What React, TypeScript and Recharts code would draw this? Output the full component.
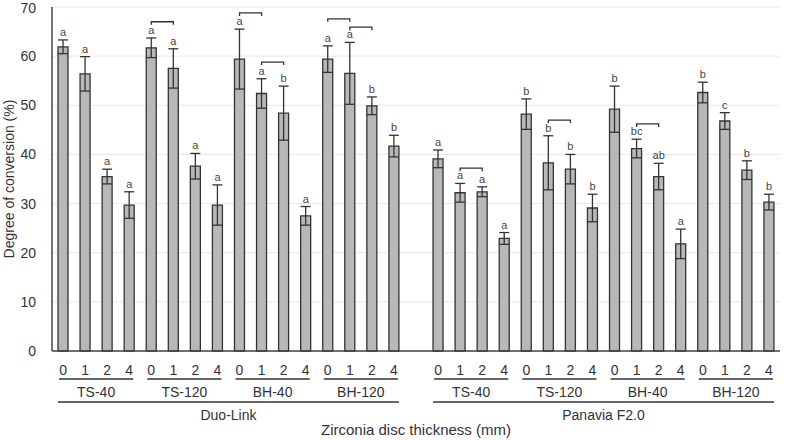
import React from "react";
import {
  Bar,
  BarChart,
  CartesianGrid,
  ErrorBar,
  LabelList,
  Line,
  ReferenceLine,
  XAxis,
  YAxis,
  ComposedChart,
} from "recharts";

const groups = ["Duo-Link", "Panavia F2.0"];
const subgroups = ["TS-40", "TS-120", "BH-40", "BH-120"];
const thickness = ["0", "1", "2", "4"];

const duoMean = [61.9, 56.4, 35.5, 29.7, 61.7, 57.5, 37.6, 29.7, 59.4, 52.4, 48.4, 27.5, 59.4, 56.5, 49.9, 41.7];
const duoSd = [1.4, 3.5, 1.5, 2.7, 2.0, 4.0, 2.6, 4.1, 6.1, 3.0, 5.5, 1.9, 2.7, 6.3, 1.8, 2.2];
const duoLetters = ["a", "a", "a", "a", "a", "a", "a", "a", "a", "a", "b", "a", "a", "a", "b", "b"];

const panMean = [39.1, 32.2, 32.4, 22.9, 48.2, 38.3, 37.0, 29.1, 49.2, 41.2, 35.5, 21.8, 52.6, 46.8, 36.8, 30.3];
const panSd = [1.8, 1.9, 1.0, 1.2, 3.1, 5.5, 3.0, 2.8, 4.7, 1.9, 2.7, 3.0, 2.1, 1.7, 1.9, 1.6];
const panLetters = ["a", "a", "a", "a", "b", "b", "b", "b", "b", "bc", "ab", "a", "b", "c", "b", "b"];

// brackets: [group, subgroup, from thickness, to thickness, height]
const brackets: [number, number, number, number, number][] = [
  [0, 1, 0, 1, 67.0],
  [0, 2, 0, 1, 68.8],
  [0, 2, 1, 2, 58.8],
  [0, 3, 0, 1, 67.6],
  [0, 3, 1, 2, 65.9],
  [1, 0, 1, 2, 37.2],
  [1, 1, 1, 2, 47.0],
  [1, 2, 1, 2, 46.2],
];

const W = 787;
const H = 440;
const M = { top: 7, right: 7, bottom: 0, left: 0 };
const Y_W = 52;
const X_H = 89;
const FONT = "'Liberation Sans', Arial, sans-serif";
const INK = "#333";

const keyOf = (g: number, s: number, t: number) => `${g}|${s}|${t}`;

type Row = {
  key: string;
  g: number;
  s: number;
  t: number;
  mean: number | null;
  sd: number | null;
  top: number | null;
  letter: string;
};

const data: Row[] = [];
groups.forEach((_, g) => {
  const means = g === 0 ? duoMean : panMean;
  const sds = g === 0 ? duoSd : panSd;
  const letters = g === 0 ? duoLetters : panLetters;
  if (g > 0) {
    data.push({ key: "gap", g: -1, s: -1, t: -1, mean: null, sd: null, top: null, letter: "" });
  }
  subgroups.forEach((_, s) => {
    thickness.forEach((_, t) => {
      const i = s * 4 + t;
      data.push({
        key: keyOf(g, s, t),
        g,
        s,
        t,
        mean: means[i],
        sd: sds[i],
        top: means[i] + sds[i],
        letter: letters[i],
      });
    });
  });
});

const byKey = new Map(data.map((d) => [d.key, d]));
const bw = (W - Y_W - M.right) / data.length;

function Tick(props: any) {
  const { x, y, payload } = props;
  const d = byKey.get(payload.value);
  if (!d || d.g < 0) return null;
  return (
    <g fontFamily={FONT} fill={INK}>
      <text x={x} y={y + 24} textAnchor="middle" fontSize={14} fill={INK}>
        {thickness[d.t]}
      </text>
      {d.t === 0 && (
        <>
          <line x1={x - 4} x2={x + 3 * bw + 4} y1={y + 28} y2={y + 28} stroke={INK} strokeWidth={1.3} />
          <text x={x + 1.5 * bw} y={y + 46} textAnchor="middle" fontSize={14} fill={INK}>
            {subgroups[d.s]}
          </text>
        </>
      )}
      {d.t === 0 && d.s === 0 && (
        <>
          <line x1={x - 5} x2={x + 15 * bw + 5} y1={y + 51} y2={y + 51} stroke={INK} strokeWidth={1.3} />
          <text x={x + 7.5 * bw} y={y + 69} textAnchor="middle" fontSize={14} fill={INK}>
            {groups[d.g]}
          </text>
        </>
      )}
    </g>
  );
}

function BracketShape(props: any) {
  const { x1, x2, y1 } = props;
  if (x1 == null) return null;
  return (
    <path
      d={`M${x1},${y1 + 3} L${x1},${y1} L${x2},${y1} L${x2},${y1 + 3}`}
      fill="none"
      stroke={INK}
      strokeWidth={1.3}
    />
  );
}

export default function App() {
  return (
    <div style={{ position: "absolute", left: 0, top: 0, width: W, height: H, background: "#fff" }}>
      <ComposedChart width={W} height={H} data={data} margin={M}>
        <CartesianGrid vertical={false} stroke="#e8e8e8" />
        <XAxis
          dataKey="key"
          height={X_H}
          interval={0}
          tickLine={false}
          tickSize={0}
          tickMargin={0}
          axisLine={{ stroke: "#444", strokeWidth: 1.5 }}
          tick={<Tick />}
          label={{
            content: (p: any) => (
              <text
                x={Y_W + (W - Y_W - M.right) / 2}
                y={435}
                textAnchor="middle"
                fontSize={15}
                fontFamily={FONT}
                fill={INK}
              >
                Zirconia disc thickness (mm)
              </text>
            ),
          }}
        />
        <XAxis xAxisId="top" dataKey="key" orientation="top" height={0} tick={false} tickLine={false} axisLine={{ stroke: "#555", strokeWidth: 1.3 }} />
        <YAxis
          domain={[0, 70]}
          ticks={[0, 10, 20, 30, 40, 50, 60, 70]}
          width={Y_W}
          tickLine={false}
          tickMargin={10}
          axisLine={{ stroke: "#444", strokeWidth: 1.5 }}
          tick={{ fontSize: 14, fill: INK, fontFamily: FONT }}
          label={{
            content: (p: any) => (
              <text
                transform={`translate(14, ${M.top + (H - M.top - X_H) / 2}) rotate(-90)`}
                textAnchor="middle"
                fontSize={14}
                fontFamily={FONT}
                fill={INK}
              >
                Degree of conversion (%)
              </text>
            ),
          }}
        />
        <YAxis yAxisId="right" orientation="right" width={0} domain={[0, 70]} tick={false} tickLine={false} axisLine={{ stroke: "#555", strokeWidth: 1.3 }} />
        <Bar dataKey="mean" barSize={10} fill="#b8b8b8" stroke="#333" strokeWidth={1.3} isAnimationActive={false}>
          <ErrorBar dataKey="sd" width={5} stroke="#333" strokeWidth={1.3} direction="y" />
        </Bar>
        <Line dataKey="top" stroke="none" dot={false} activeDot={false} isAnimationActive={false}>
          <LabelList dataKey="letter" position="top" offset={4} fontSize={11} fill="#444" fontFamily={FONT} />
        </Line>
        {brackets.map(([g, s, a, b, y], i) => (
          <ReferenceLine
            key={i}
            segment={[
              { x: keyOf(g, s, a), y },
              { x: keyOf(g, s, b), y },
            ]}
            shape={<BracketShape />}
          />
        ))}
      </ComposedChart>
    </div>
  );
}
